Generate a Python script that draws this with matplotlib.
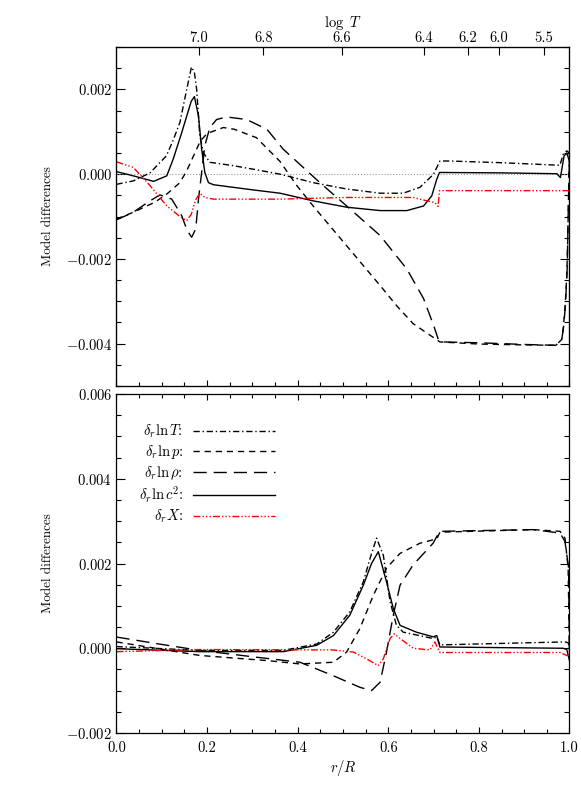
import numpy as np
import matplotlib.pyplot as plt
from matplotlib.ticker import MultipleLocator, FuncFormatter

plt.rcParams['font.family'] = 'serif'
plt.rcParams['font.serif'] = ['cmr10']
plt.rcParams['mathtext.fontset'] = 'cm'
plt.rcParams['axes.formatter.use_mathtext'] = True
plt.rcParams['axes.unicode_minus'] = False

# ---- upper panel: differences at fixed r ----
up_r_T = [0, 0.037, 0.074, 0.11, 0.125, 0.14, 0.155, 0.1655, 0.172, 0.177, 0.184, 0.192,
          0.206, 0.258, 0.30, 0.361, 0.434, 0.508, 0.582, 0.633, 0.670, 0.700, 0.714,
          0.736, 0.85, 0.979, 0.986, 0.994, 1.0]
up_lnT = [-0.00024, -0.00016, 0.00003, 0.00043, 0.0008, 0.00122, 0.0020, 0.00253, 0.0024,
          0.0020, 0.0009, 0.0005, 0.00028, 0.0002, 0.00012, 0.0, -0.0002, -0.00035,
          -0.00045, -0.00045, -0.00031, 0.0, 0.00031, 0.00031, 0.00027, 0.00021,
          0.00047, 0.00055, 0.0005]

up_r_p = [0, 0.037, 0.085, 0.111, 0.14, 0.155, 0.17, 0.185, 0.2, 0.236, 0.26, 0.309, 0.361,
          0.398, 0.434, 0.471, 0.508, 0.545, 0.582, 0.618, 0.655, 0.692, 0.714, 0.8, 0.9,
          0.97, 0.983, 0.986, 0.99, 0.994, 0.996, 0.998, 1.0]
up_lnp = [-0.00106, -0.0009, -0.00066, -0.00047, -0.0002, 0.00008, 0.00043, 0.00078,
          0.00096, 0.0011, 0.00106, 0.00086, 0.0003, -0.00027, -0.00075, -0.00122,
          -0.00169, -0.00216, -0.00263, -0.0031, -0.00353, -0.0038, -0.00396, -0.00401,
          -0.00403, -0.00404, -0.0039, -0.00365, -0.00318, -0.00239, -0.0016, -0.0005,
          0.0005]

up_r_rho = [0, 0.037, 0.074, 0.096, 0.122, 0.144, 0.156, 0.166, 0.175, 0.181, 0.188, 0.195,
            0.206, 0.221, 0.243, 0.287, 0.332, 0.368, 0.449, 0.508, 0.582, 0.641, 0.678,
            0.700, 0.711, 0.72, 0.8, 0.9, 0.97, 0.983, 0.987, 0.991, 0.995, 0.997, 1.0]
up_lnrho = [-0.00108, -0.0009, -0.00063, -0.00049, -0.00059, -0.00098, -0.00133, -0.00149,
            -0.00129, -0.00059, 0.00004, 0.00067, 0.0011, 0.00129, 0.00135, 0.00129,
            0.00106, 0.00059, -0.0002, -0.00075, -0.00145, -0.00224, -0.00294, -0.00357,
            -0.00392, -0.00396, -0.00398, -0.00402, -0.00404, -0.0039, -0.0036, -0.0031,
            -0.0022, -0.001, 0.0004]

up_r_c2 = [0, 0.037, 0.082, 0.111, 0.125, 0.144, 0.155, 0.165, 0.172, 0.181, 0.188, 0.195,
           0.203, 0.214, 0.30, 0.361, 0.434, 0.508, 0.582, 0.641, 0.678, 0.696, 0.707,
           0.713, 0.85, 0.972, 0.98, 0.988, 0.994, 1.0]
up_lnc2 = [0.00006, -0.00004, -0.00017, -0.00004, 0.00035, 0.00098, 0.00137, 0.00172,
           0.00183, 0.00137, 0.00059, 0.00004, -0.0002, -0.00025, -0.00037, -0.00045,
           -0.00063, -0.00078, -0.00086, -0.00086, -0.00075, -0.00051, -0.00012, 0.00004,
           0.00003, 0.00001, -0.00008, 0.00043, 0.0005, 0.0003]

up_r_X = [0, 0.037, 0.074, 0.111, 0.14, 0.155, 0.165, 0.175, 0.184, 0.195, 0.214, 0.361,
          0.508, 0.655, 0.685, 0.703, 0.710, 0.713, 0.85, 1.0]
up_X = [0.00029, 0.00016, -0.00027, -0.00075, -0.001, -0.0011, -0.00095, -0.0006, -0.00045,
        -0.00055, -0.00059, -0.00059, -0.00055, -0.00055, -0.00063, -0.00067, -0.00076,
        -0.00039, -0.00039, -0.00039]

# ---- lower panel ----
lo_r_T = [0, 0.184, 0.368, 0.442, 0.479, 0.515, 0.545, 0.560, 0.574, 0.589, 0.604, 0.618,
          0.633, 0.699, 0.707, 0.714, 0.99, 0.997, 1.0]
lo_lnT = [0.00004, -0.00005, -0.00005, 0.0001, 0.00038, 0.00086, 0.00157, 0.00213, 0.0026,
          0.0022, 0.0011, 0.00054, 0.00038, 0.00023, 0.00027, 0.00008, 0.00015, 0.00013,
          0.00003]

lo_r_p = [0, 0.184, 0.332, 0.405, 0.479, 0.508, 0.537, 0.567, 0.596, 0.626, 0.67, 0.699,
          0.707, 0.714, 0.92, 0.979, 0.99, 0.997, 1.0]
lo_lnp = [0.00015, -0.00017, -0.00029, -0.00037, -0.00033, -0.00009, 0.00046, 0.00125,
          0.00189, 0.00224, 0.00248, 0.00256, 0.00258, 0.00274, 0.0028, 0.00276, 0.0026,
          0.0019, -0.0001]

lo_r_rho = [0, 0.1, 0.184, 0.3, 0.405, 0.479, 0.537, 0.563, 0.582, 0.596, 0.611, 0.626,
            0.655, 0.699, 0.707, 0.714, 0.92, 0.979, 0.99, 0.998, 1.0]
lo_lnrho = [0.000265, 0.00009, -0.00005, -0.0002, -0.00033, -0.00065, -0.00092, -0.001,
            -0.0008, -0.00009, 0.00078, 0.00149, 0.00197, 0.00248, 0.00264, 0.00276, 0.0028,
            0.00272, 0.00252, 0.0019, -0.0002]

lo_r_c2 = [0, 0.184, 0.368, 0.442, 0.479, 0.515, 0.545, 0.563, 0.578, 0.596, 0.611, 0.626,
           0.662, 0.699, 0.707, 0.714, 0.986, 0.994, 1.0]
lo_lnc2 = [-0.00001, -0.00008, -0.00008, 0.00007, 0.0003, 0.00078, 0.00149, 0.002, 0.00228,
           0.00157, 0.00094, 0.00054, 0.00038, 0.00027, 0.0003, 0.00003, 0.0, -0.00003,
           -0.00029]

lo_r_X = [0, 0.184, 0.479, 0.523, 0.552, 0.578, 0.589, 0.604, 0.613, 0.626, 0.655, 0.692,
          0.703, 0.708, 0.714, 0.979, 0.994, 1.0]
lo_X = [-0.00008, -0.00003, -0.00004, -0.00009, -0.00025, -0.00041, -0.00025, 0.00023,
        0.00034, 0.00023, 0.0, -0.00004, 0.00015, 0.00003, -0.0001, -0.0001, -0.00017,
        -0.00017]

labels = [r'$\delta_r{\ln}T$:', r'$\delta_r{\ln}p$:', r'$\delta_r{\ln}\rho$:',
          r'$\delta_r{\ln}c^2$:', r'$\delta_rX$:']

logT_labels = ['7.0', '6.8', '6.6', '6.4', '6.2', '6.0', '5.5']
logT_r = [0.182, 0.324, 0.498, 0.679, 0.775, 0.844, 0.944]

styles = [
    dict(color='black', lw=1.0, ls=(0, (4.5, 2, 1, 2))),
    dict(color='black', lw=1.0, ls=(0, (4.5, 3.5))),
    dict(color='black', lw=1.0, ls=(0, (9.5, 5))),
    dict(color='black', lw=1.0, ls='-'),
    dict(color='red', lw=1.0, ls=(0, (5, 1.5, 1, 1.5, 1, 1.5, 1, 1.5))),
]

fmt = FuncFormatter(lambda v, p: '$%.3f$' % (0.0 if abs(v) < 1e-12 else v))


def style_axes(ax, ymin, ymax):
    ax.set_xlim(0, 1)
    ax.set_ylim(ymin, ymax)
    ax.xaxis.set_major_locator(MultipleLocator(0.2))
    ax.xaxis.set_minor_locator(MultipleLocator(0.05))
    ax.yaxis.set_major_locator(MultipleLocator(0.002))
    ax.yaxis.set_minor_locator(MultipleLocator(0.0005))
    ax.yaxis.set_major_formatter(fmt)
    ax.tick_params(axis='y', which='both', direction='in', left=True, right=True,
                   labelsize=10.5, pad=3)
    ax.tick_params(axis='y', which='major', length=6.5, width=0.8)
    ax.tick_params(axis='y', which='minor', length=3.5, width=0.8)
    ax.tick_params(axis='x', which='both', direction='in', bottom=True, labelsize=10.5, pad=6)
    ax.tick_params(axis='x', which='major', length=4.5, width=0.8)
    ax.tick_params(axis='x', which='minor', length=3, width=0.8)
    for s in ax.spines.values():
        s.set_linewidth(0.9)
    ax.set_ylabel('Model differences', fontsize=9.5)
    ax.yaxis.set_label_coords(-0.138, 0.5)


fig = plt.figure(figsize=(5.81, 8.07), dpi=100)
ax1 = fig.add_axes([0.2005, 0.5217, 0.7797, 0.42])
ax2 = fig.add_axes([0.2005, 0.0917, 0.7797, 0.42])

# upper panel
ax1.axhline(0, color='#999999', ls=':', lw=0.8)
upper = [(up_r_T, up_lnT), (up_r_p, up_lnp), (up_r_rho, up_lnrho),
         (up_r_c2, up_lnc2), (up_r_X, up_X)]
for (r, v), st in zip(upper, styles):
    ax1.plot(r, v, **st)
style_axes(ax1, -0.005, 0.003)
ax1.tick_params(axis='x', which='both', labelbottom=False, top=False)

top = ax1.twiny()
top.set_xlim(0, 1)
top.set_xticks(logT_r)
top.set_xticklabels(logT_labels)
top.tick_params(axis='x', direction='in', length=5.5, width=0.8, labelsize=10.5, pad=1.5)
top.set_xlabel(r'$\log\ T$', fontsize=10.5, labelpad=3)

# lower panel
lower = [(lo_r_T, lo_lnT), (lo_r_p, lo_lnp), (lo_r_rho, lo_lnrho),
         (lo_r_c2, lo_lnc2), (lo_r_X, lo_X)]
for (r, v), st, lab in zip(lower, styles, labels):
    ax2.plot(r, v, label=lab, **st)
style_axes(ax2, -0.002, 0.006)
ax2.tick_params(axis='x', which='both', top=True)
ax2.set_xticks([0.0, 0.2, 0.4, 0.6, 0.8, 1.0])
ax2.set_xticklabels(['0.0', '0.2', '0.4', '0.6', '0.8', '1.0'])
ax2.set_xlabel(r'$r/R$', fontsize=10.5, labelpad=2)

ax2.legend(loc='upper right', bbox_to_anchor=(0.35, 0.915), frameon=False,
           markerfirst=False, fontsize=10.5, handlelength=5.6, handletextpad=0.7,
           labelspacing=0.2, borderpad=0, borderaxespad=0)

fig.savefig('out.png', dpi=100)
